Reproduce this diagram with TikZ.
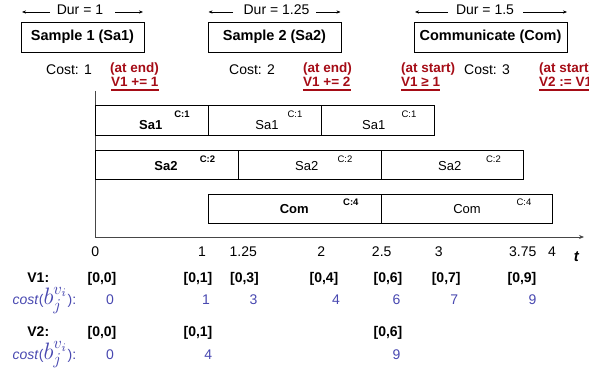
\documentclass[tikz,border=0pt]{standalone}
\usepackage{fontspec}
\usepackage{graphicx}
\setmainfont{Liberation Sans}
\usetikzlibrary{arrows.meta}
\definecolor{notered}{RGB}{165,12,22}
\definecolor{costblue}{RGB}{72,72,176}
\definecolor{axisgray}{RGB}{70,70,70}
\newcommand{\costlabel}{\textit{cost}(\scalebox{1.65}{$b_j^{v_i}$}):}

\begin{document}
\begin{tikzpicture}[x=1pt,y=-1pt,
  txt/.style={inner sep=0pt,anchor=base,font=\fontsize{14}{16}\selectfont},
  headbox/.style={draw,line width=0.9pt,inner sep=0pt,minimum height=30pt,
    font=\fontsize{14.5}{16}\selectfont\bfseries},
  durarrow/.style={line width=0.6pt,-{Stealth[length=4pt,width=3.2pt]}},
  note/.style={inner sep=0pt,anchor=base west,text=notered,
    font=\fontsize{13.5}{15}\selectfont\bfseries},
  noteline/.style={notered,line width=1.8pt},
  slot/.style={draw,line width=0.8pt,inner sep=0pt,anchor=north west},
  act/.style={inner sep=0pt,anchor=base,font=\fontsize{13}{15}\selectfont},
  actb/.style={act,font=\fontsize{13}{15}\selectfont\bfseries},
  cst/.style={inner sep=0pt,anchor=base,font=\fontsize{9.5}{11}\selectfont},
  cstb/.style={cst,font=\fontsize{9.5}{11}\selectfont\bfseries},
  tick/.style={txt},
  ival/.style={txt,font=\fontsize{14}{16}\selectfont\bfseries},
  cval/.style={inner sep=0pt,anchor=base east,text=costblue,
    font=\fontsize{14}{16}\selectfont},
  clabel/.style={inner sep=0pt,anchor=base west,text=costblue,
    font=\fontsize{14}{16}\selectfont}]
\useasboundingbox (0,0) rectangle (589,379);

% ---- action headers with their durations ----
\node[headbox,minimum width=123pt] (sa1) at (82.5,37) {Sample 1 (Sa1)};
\node[headbox,minimum width=133pt] (sa2) at (274.5,37) {Sample 2 (Sa2)};
\node[headbox,minimum width=153pt] (com) at (490.5,37) {Communicate (Com)};

\node[txt] (dur1) at (80,15) {Dur = 1};
\node[txt] (dur2) at (276.5,15) {Dur = 1.25};
\node[txt] (dur3) at (485,15) {Dur = 1.5};

\coordinate (d1a) at (50,12);   \coordinate (d1b) at (22,12);
\coordinate (d1c) at (115,12);  \coordinate (d1d) at (143,12);
\coordinate (d2a) at (233,12);  \coordinate (d2b) at (208.5,12);
\coordinate (d2c) at (316,12);  \coordinate (d2d) at (340.5,12);
\coordinate (d3a) at (448,12);  \coordinate (d3b) at (415,12);
\coordinate (d3c) at (523,12);  \coordinate (d3d) at (567,12);
\draw[durarrow] (d1a) -- (d1b);
\draw[durarrow] (d1c) -- (d1d);
\draw[durarrow] (d2a) -- (d2b);
\draw[durarrow] (d2c) -- (d2d);
\draw[durarrow] (d3a) -- (d3b);
\draw[durarrow] (d3c) -- (d3d);

% ---- costs and conditions / effects ----
\node[txt] (cost1) at (69,75) {Cost: 1};
\node[txt] (cost2) at (252,75) {Cost: 2};
\node[txt] (cost3) at (487,75) {Cost: 3};

\node[note] (n1a) at (110,73) {(at end)};
\node[note] (n1b) at (111,87) {V1 += 1};
\node[note] (n2a) at (303,73) {(at end)};
\node[note] (n2b) at (303,87) {V1 += 2};
\node[note] (n3a) at (401,73) {(at start)};
\node[note] (n3b) at (401,87) {V1 ≥ 1};
\node[note] (n4a) at (539,73) {(at start)};
\node[note] (n4b) at (539,87) {V2 := V1};
\foreach \n in {n1b,n2b,n3b,n4b}
  \draw[noteline] ([yshift=-2.8pt]\n.base west) -- ([yshift=-2.8pt]\n.base east);

% ---- time axis ----
\coordinate (origin) at (95,237);
\coordinate (ytop) at (95,91);
\coordinate (xend) at (584,237);
\draw[axisgray,line width=0.8pt] (ytop) -- (origin);
\draw[axisgray,line width=0.8pt,-{Stealth[length=5pt,width=4pt]}] (origin) -- (xend);

\node[tick] (t0) at (95.3,256.5) {0};
\node[tick] (t1) at (202,256.5) {1};
\node[tick] (t125) at (243.3,256.5) {1.25};
\node[tick] (t2) at (321.3,256.5) {2};
\node[tick] (t25) at (381.7,256.5) {2.5};
\node[tick] (t3) at (438.8,256.5) {3};
\node[tick] (t375) at (522.8,256.5) {3.75};
\node[tick] (t4) at (552,256.5) {4};
\node[txt,font=\fontsize{15}{17}\selectfont\bfseries\itshape] (tlab) at (576.3,261.7) {t};

% ---- grounded action slots ----
\node[slot,minimum width=113.3pt,minimum height=30pt] (a1) at (95,105) {};
\node[slot,minimum width=112.7pt,minimum height=30pt] (a2) at (208.3,105) {};
\node[slot,minimum width=113.3pt,minimum height=30pt] (a3) at (321,105) {};
\node[actb] (a1l) at (150.7,129.3) {Sa1};
\node[cstb] (a1c) at (182,117.3) {C:1};
\node[act] (a2l) at (267,129.3) {Sa1};
\node[cst] (a2c) at (295,117.3) {C:1};
\node[act] (a3l) at (373.7,129.3) {Sa1};
\node[cst] (a3c) at (409,117.3) {C:1};

\node[slot,minimum width=142.7pt,minimum height=29pt] (b1) at (95,150) {};
\node[slot,minimum width=143pt,minimum height=29pt] (b2) at (237.7,150) {};
\node[slot,minimum width=142pt,minimum height=29pt] (b3) at (380.7,150) {};
\node[actb] (b1l) at (166,170.7) {Sa2};
\node[cstb] (b1c) at (207.5,162.7) {C:2};
\node[act] (b2l) at (306.7,170.7) {Sa2};
\node[cst] (b2c) at (345,162.7) {C:2};
\node[act] (b3l) at (449.7,170.7) {Sa2};
\node[cst] (b3c) at (493.5,162.7) {C:2};

\node[slot,minimum width=172.4pt,minimum height=29pt] (c1) at (208.3,194) {};
\node[slot,minimum width=171.6pt,minimum height=29pt] (c2) at (380.7,194) {};
\node[actb] (c1l) at (294.2,214) {Com};
\node[cstb] (c1c) at (350.8,206) {C:4};
\node[act] (c2l) at (467,214) {Com};
\node[cst] (c2c) at (524,206) {C:4};

% ---- bounds of V1 and V2 with their costs ----
\node[ival] (v1lab) at (38.3,283) {V1:};
\node[ival] (v1a) at (102,283) {[0,0]};
\node[ival] (v1b) at (198,283) {[0,1]};
\node[ival] (v1c) at (244.5,283) {[0,3]};
\node[ival] (v1d) at (324,283) {[0,4]};
\node[ival] (v1e) at (388,283) {[0,6]};
\node[ival] (v1f) at (446.2,283) {[0,7]};
\node[ival] (v1g) at (522,283) {[0,9]};

\node[clabel] (c1lab) at (12.5,305) {\costlabel};
\node[cval] (k1a) at (114,305) {0};
\node[cval] (k1b) at (210,305) {1};
\node[cval] (k1c) at (257.7,305) {3};
\node[cval] (k1d) at (340,305) {4};
\node[cval] (k1e) at (400.7,305) {6};
\node[cval] (k1f) at (458.3,305) {7};
\node[cval] (k1g) at (536.7,305) {9};

\node[ival] (v2lab) at (38.3,336.5) {V2:};
\node[ival] (v2a) at (102,336.5) {[0,0]};
\node[ival] (v2b) at (198,336.5) {[0,1]};
\node[ival] (v2c) at (388,336.5) {[0,6]};

\node[clabel] (c2lab) at (12.5,359.3) {\costlabel};
\node[cval] (k2a) at (114,359.3) {0};
\node[cval] (k2b) at (212.3,359.3) {4};
\node[cval] (k2c) at (400.7,359.3) {9};
\end{tikzpicture}
\end{document}
